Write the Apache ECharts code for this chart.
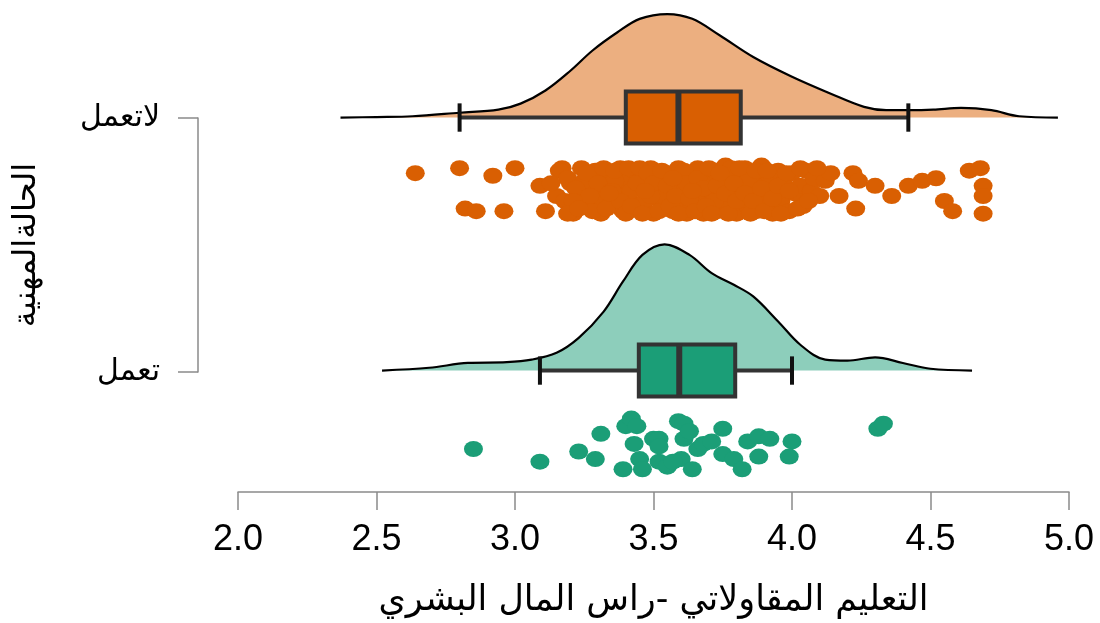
<!DOCTYPE html>
<html>
<head>
<meta charset="utf-8">
<script src="https://cdn.jsdelivr.net/npm/echarts@6/dist/echarts.min.js"></script>
<style>
  html, body { margin: 0; padding: 0; background: #ffffff; }
  #chart { width: 1100px; height: 623px; }
</style>
</head>
<body>
<div id="chart"></div>
<script>
// Groups, listed bottom to top
const groups = ['تعمل', 'لاتعمل'];
const xTitle = 'التعليم المقاولاتي -راس المال البشري';
const yTitle = 'الحالةالمهنية';
const xTicks = [2.0, 2.5, 3.0, 3.5, 4.0, 4.5, 5.0];

// Density outline of the "لاتعمل" group: score value and curve height
const densTopX = [2.37, 2.50, 2.63, 2.80, 2.94, 3.02, 3.11, 3.20, 3.28, 3.37, 3.45, 3.55,
                  3.64, 3.74, 3.86, 4.00, 4.14, 4.26, 4.34, 4.42, 4.51, 4.61, 4.72, 4.82, 4.96];
const densTopH = [0.000, 0.002, 0.005, 0.019, 0.031, 0.055, 0.107, 0.185, 0.265, 0.337, 0.390, 0.409,
                  0.390, 0.324, 0.239, 0.161, 0.094, 0.042, 0.029, 0.029, 0.031, 0.038, 0.029, 0.005, 0.000];

// Density outline of the "تعمل" group
const densBotX = [2.52, 2.69, 2.83, 2.97, 3.06, 3.15, 3.23, 3.32, 3.39, 3.46, 3.54, 3.63,
                  3.71, 3.79, 3.86, 3.95, 4.03, 4.12, 4.20, 4.30, 4.40, 4.50, 4.65];
const densBotH = [0.000, 0.011, 0.030, 0.033, 0.043, 0.070, 0.129, 0.233, 0.352, 0.457, 0.499, 0.457,
                  0.385, 0.339, 0.293, 0.194, 0.102, 0.043, 0.039, 0.052, 0.030, 0.007, 0.000];

// Box summaries: [lower whisker, Q1, median, Q3, upper whisker]
const boxTop = [2.80, 3.40, 3.59, 3.815, 4.42];
const boxBot = [3.09, 3.447, 3.593, 3.795, 4.00];

// Raw scores of "لاتعمل": [score, vertical jitter below the group line]
const ptsTop = [
  [2.64, -0.22], [2.80, -0.20], [2.92, -0.23], [3.00, -0.20], [2.82, -0.36], [2.86, -0.37],
  [2.96, -0.37], [3.11, -0.37], [3.09, -0.27], [3.15, -0.31], [3.17, -0.20], [3.20, -0.26],
  [3.16, -0.21], [3.19, -0.24], [3.13, -0.26], [3.18, -0.33], [3.21, -0.38], [3.24, -0.20],
  [3.23, -0.30], [3.26, -0.35], [3.27, -0.25], [3.29, -0.21], [3.30, -0.31], [3.31, -0.38],
  [3.33, -0.27], [3.34, -0.22], [3.35, -0.34], [3.37, -0.30], [3.38, -0.20], [3.39, -0.37],
  [3.40, -0.25], [3.41, -0.32], [3.43, -0.21], [3.44, -0.36], [3.45, -0.28], [3.46, -0.24],
  [3.47, -0.33], [3.49, -0.20], [3.50, -0.38], [3.51, -0.29], [3.52, -0.25], [3.53, -0.34],
  [3.55, -0.22], [3.56, -0.30], [3.57, -0.37], [3.58, -0.26], [3.59, -0.20], [3.60, -0.33],
  [3.61, -0.29], [3.62, -0.38], [3.63, -0.23], [3.64, -0.35], [3.65, -0.27], [3.66, -0.20],
  [3.67, -0.31], [3.68, -0.38], [3.69, -0.24], [3.70, -0.34], [3.71, -0.28], [3.72, -0.21],
  [3.73, -0.37], [3.74, -0.31], [3.75, -0.25], [3.76, -0.19], [3.77, -0.35], [3.78, -0.29],
  [3.79, -0.22], [3.80, -0.38], [3.81, -0.32], [3.82, -0.26], [3.83, -0.20], [3.84, -0.35],
  [3.85, -0.29], [3.86, -0.23], [3.87, -0.37], [3.88, -0.31], [3.89, -0.19], [3.90, -0.27],
  [3.91, -0.34], [3.92, -0.23], [3.93, -0.38], [3.94, -0.29], [3.95, -0.21], [3.96, -0.33],
  [3.97, -0.26], [3.99, -0.37], [4.00, -0.22], [4.01, -0.30], [4.03, -0.27], [4.04, -0.35],
  [4.05, -0.21], [4.07, -0.29], [4.08, -0.24], [4.10, -0.31], [4.12, -0.25], [4.14, -0.22],
  [4.17, -0.31], [3.42, -0.29], [3.48, -0.27], [3.54, -0.31], [3.60, -0.24], [3.66, -0.34],
  [3.72, -0.33], [3.78, -0.20], [3.84, -0.25], [3.36, -0.25], [3.32, -0.33], [3.28, -0.29],
  [3.25, -0.25], [4.22, -0.22], [4.24, -0.25], [4.30, -0.27], [4.36, -0.31], [4.42, -0.27],
  [4.47, -0.25], [4.52, -0.24], [4.64, -0.21], [4.68, -0.20], [4.69, -0.27], [4.69, -0.31],
  [4.55, -0.33], [4.58, -0.37], [4.69, -0.38], [4.23, -0.36],
  [3.22, -0.28], [3.24, -0.34], [3.26, -0.22], [3.28, -0.37], [3.30, -0.26], [3.32, -0.20],
  [3.33, -0.36], [3.35, -0.29], [3.36, -0.21], [3.38, -0.33], [3.40, -0.38], [3.41, -0.20],
  [3.42, -0.35], [3.44, -0.26], [3.45, -0.20], [3.46, -0.38], [3.48, -0.22], [3.49, -0.31],
  [3.50, -0.26], [3.52, -0.37], [3.53, -0.21], [3.55, -0.27], [3.56, -0.35], [3.58, -0.31],
  [3.59, -0.38], [3.61, -0.21], [3.62, -0.26], [3.63, -0.32], [3.65, -0.37], [3.66, -0.24],
  [3.68, -0.28], [3.69, -0.35], [3.70, -0.20], [3.71, -0.38], [3.73, -0.27], [3.74, -0.22],
  [3.76, -0.30], [3.77, -0.38], [3.79, -0.26], [3.80, -0.33], [3.81, -0.20], [3.83, -0.30],
  [3.85, -0.38], [3.86, -0.33], [3.87, -0.21], [3.89, -0.28], [3.90, -0.37], [3.91, -0.21],
  [3.93, -0.32], [3.95, -0.27], [3.96, -0.38], [3.98, -0.22], [3.99, -0.29], [4.02, -0.36],
  [4.03, -0.20], [4.06, -0.33], [4.09, -0.20], [3.57, -0.24], [3.64, -0.29], [3.47, -0.29],
  [3.34, -0.30], [3.27, -0.31], [3.21, -0.33], [3.19, -0.38], [3.23, -0.36]
];

// Raw scores of "تعمل"
const ptsBot = [
  [2.85, -0.31], [3.09, -0.36], [3.23, -0.32], [3.29, -0.35], [3.31, -0.25], [3.39, -0.39],
  [3.40, -0.22], [3.42, -0.19], [3.43, -0.29], [3.45, -0.35], [3.46, -0.39], [3.44, -0.22],
  [3.50, -0.27], [3.52, -0.27], [3.52, -0.36], [3.55, -0.38], [3.59, -0.20], [3.61, -0.21],
  [3.61, -0.27], [3.63, -0.24], [3.60, -0.35], [3.64, -0.39], [3.66, -0.31], [3.68, -0.29],
  [3.75, -0.23], [3.75, -0.33], [3.79, -0.35], [3.82, -0.39], [3.84, -0.28], [3.88, -0.26],
  [3.92, -0.27], [3.88, -0.34], [4.00, -0.28], [3.99, -0.34], [4.31, -0.23], [4.33, -0.21],
  [3.52, -0.30], [3.71, -0.28], [3.57, -0.36]
];

const ORANGE = '#D95F02';
const GREEN = '#1B9E77';
const BASE_TOP = 2;
const BASE_BOT = 1;
const BOX_HALF = 0.103;
const CAP_HALF = 0.056;
const ARABIC_FONT = '"DejaVu Sans", sans-serif';

function densitySeries(xs, hs, base, fill) {
  return {
    type: 'line',
    xAxisIndex: 0, yAxisIndex: 0,
    data: xs.map((x, i) => [x, base + hs[i]]),
    smooth: 0.35,
    showSymbol: false,
    silent: true,
    lineStyle: { color: '#000000', width: 2.2 },
    areaStyle: { color: fill, opacity: 1, origin: base },
    z: 1
  };
}

function boxSeries(stats, base, color) {
  return {
    type: 'custom',
    xAxisIndex: 0, yAxisIndex: 0,
    data: [[...stats, base]],
    silent: true,
    z: 2,
    renderItem(params, api) {
      const lo = api.value(0), q1 = api.value(1), md = api.value(2), q3 = api.value(3), hi = api.value(4);
      const b = api.value(5);
      const pLo = api.coord([lo, b]);
      const pHi = api.coord([hi, b]);
      const capLoA = api.coord([lo, b + CAP_HALF]), capLoB = api.coord([lo, b - CAP_HALF]);
      const capHiA = api.coord([hi, b + CAP_HALF]), capHiB = api.coord([hi, b - CAP_HALF]);
      const bxA = api.coord([q1, b + BOX_HALF]), bxB = api.coord([q3, b - BOX_HALF]);
      const mdA = api.coord([md, b + BOX_HALF]), mdB = api.coord([md, b - BOX_HALF]);
      return {
        type: 'group',
        children: [
          { type: 'line', shape: { x1: pLo[0], y1: pLo[1], x2: pHi[0], y2: pHi[1] },
            style: { stroke: '#333333', lineWidth: 4 } },
          { type: 'line', shape: { x1: capLoA[0], y1: capLoA[1], x2: capLoB[0], y2: capLoB[1] },
            style: { stroke: '#111111', lineWidth: 4 } },
          { type: 'line', shape: { x1: capHiA[0], y1: capHiA[1], x2: capHiB[0], y2: capHiB[1] },
            style: { stroke: '#111111', lineWidth: 4 } },
          { type: 'rect', shape: { x: bxA[0], y: bxA[1], width: bxB[0] - bxA[0], height: bxB[1] - bxA[1] },
            style: { fill: color, stroke: '#333333', lineWidth: 4 } },
          { type: 'line', shape: { x1: mdA[0], y1: mdA[1], x2: mdB[0], y2: mdB[1] },
            style: { stroke: '#333333', lineWidth: 6 } }
        ]
      };
    }
  };
}

function pointSeries(pts, base, color) {
  return {
    type: 'scatter',
    xAxisIndex: 0, yAxisIndex: 0,
    data: pts.map(p => [p[0], base + p[1]]),
    symbol: 'circle',
    symbolSize: [19, 16],
    itemStyle: { color: color, opacity: 1 },
    silent: true,
    z: 3
  };
}

const chart = echarts.init(document.getElementById('chart'), null, { renderer: 'canvas' });

chart.setOption({
  animation: false,
  backgroundColor: '#ffffff',
  grid: [
    { left: 238, right: 31, top: 10, bottom: 129 },
    { left: 198, width: 1, top: 118, bottom: 251 }
  ],
  xAxis: [
    {
      gridIndex: 0,
      type: 'value',
      min: xTicks[0],
      max: xTicks[xTicks.length - 1],
      interval: 0.5,
      axisLine: { show: true, onZero: false, lineStyle: { color: '#8a8a8a', width: 1.5 } },
      axisTick: { show: true, length: 18, lineStyle: { color: '#8a8a8a', width: 1.5 } },
      axisLabel: {
        margin: 30, fontSize: 36, color: '#000000',
        fontFamily: '"Liberation Sans", Arial, sans-serif',
        formatter: v => v.toFixed(1)
      },
      splitLine: { show: false },
      name: xTitle,
      nameLocation: 'middle',
      nameGap: 91,
      nameTextStyle: { fontSize: 35, color: '#000000', fontFamily: ARABIC_FONT }
    },
    { gridIndex: 1, type: 'value', show: false }
  ],
  yAxis: [
    { gridIndex: 0, type: 'value', min: 0.52, max: 2.425, show: false },
    {
      gridIndex: 1,
      type: 'category',
      data: groups,
      boundaryGap: false,
      axisLine: { show: true, lineStyle: { color: '#8a8a8a', width: 1.5 } },
      axisTick: { show: true, length: 20, lineStyle: { color: '#8a8a8a', width: 1.5 } },
      axisLabel: { margin: 38, fontSize: 30, color: '#000000', fontFamily: ARABIC_FONT },
      splitLine: { show: false },
      name: yTitle,
      nameLocation: 'middle',
      nameRotate: 90,
      nameGap: 155,
      nameTextStyle: { fontSize: 32, color: '#000000', fontFamily: ARABIC_FONT }
    }
  ],
  series: [
    densitySeries(densTopX, densTopH, BASE_TOP, 'rgba(217,95,2,0.5)'),
    densitySeries(densBotX, densBotH, BASE_BOT, 'rgba(27,158,119,0.5)'),
    boxSeries(boxTop, BASE_TOP, ORANGE),
    boxSeries(boxBot, BASE_BOT, GREEN),
    pointSeries(ptsTop, BASE_TOP, ORANGE),
    pointSeries(ptsBot, BASE_BOT, GREEN)
  ]
});
</script>
</body>
</html>
